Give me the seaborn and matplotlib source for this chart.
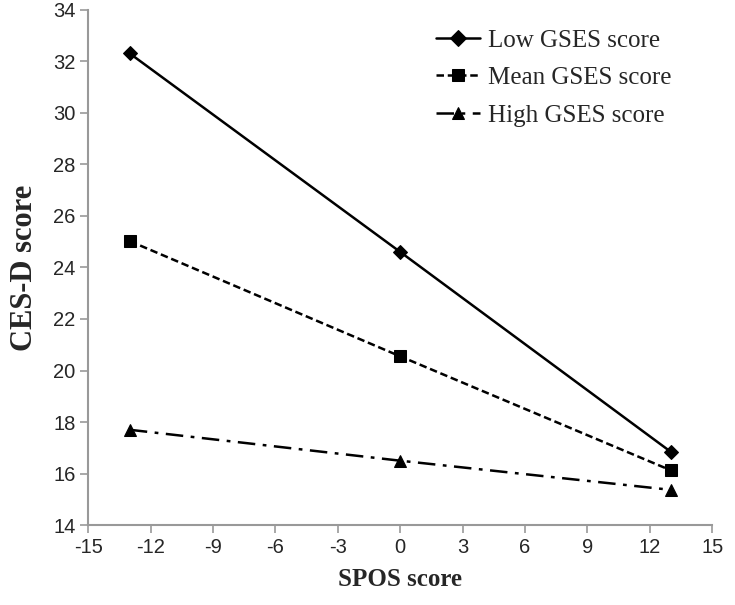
import pandas as pd
import seaborn as sns
import matplotlib.pyplot as plt

# SPOS score levels (-1 SD, mean, +1 SD)
spos = [-13, 0, 13]

# predicted CES-D scores for each GSES level
low_gses = [32.3, 24.6, 16.85]
mean_gses = [25.02, 20.55, 16.13]
high_gses = [17.7, 16.5, 15.37]

labels = ['Low GSES score', 'Mean GSES score', 'High GSES score']

data = pd.DataFrame({
    'SPOS': spos * 3,
    'CESD': low_gses + mean_gses + high_gses,
    'group': [labels[0]] * 3 + [labels[1]] * 3 + [labels[2]] * 3,
})

sns.set_style('white')
plt.rcParams['font.family'] = ['Liberation Sans', 'DejaVu Sans']
plt.rcParams['axes.unicode_minus'] = False

fig = plt.figure(figsize=(7.35, 6.05), dpi=100)
ax = fig.add_axes([0.12, 0.132, 0.849, 0.852])

sns.lineplot(data=data, x='SPOS', y='CESD', hue='group', style='group',
             hue_order=labels, style_order=labels,
             palette=['black'] * 3,
             markers={labels[0]: 'D', labels[1]: 's', labels[2]: '^'},
             dashes={labels[0]: '', labels[1]: (3, 1.5), labels[2]: (7, 3, 1.5, 3)},
             markersize=8, linewidth=1.8, markeredgecolor='black', ax=ax)

# diamond slightly smaller like the original
ax.get_lines()[0].set_markersize(7)

ax.set_xlim(-15, 15)
ax.set_ylim(14, 34)
ax.set_xticks(range(-15, 16, 3))
ax.set_yticks(range(14, 35, 2))
ax.tick_params(axis='both', direction='out', length=6, width=1.2, color='#999999',
               labelsize=14.5, pad=3, left=True, bottom=True)

for side in ['top', 'right']:
    ax.spines[side].set_visible(False)
for side in ['left', 'bottom']:
    ax.spines[side].set_color('#999999')
    ax.spines[side].set_linewidth(1.5)

ax.set_xlabel('SPOS score', family='Liberation Serif', fontweight='bold', fontsize=18, labelpad=8)
ax.set_ylabel('CES-D score', family='Liberation Serif', fontweight='bold', fontsize=22, labelpad=10)

leg = ax.legend(loc='upper left', bbox_to_anchor=(0.593, 0.952), bbox_transform=fig.transFigure,
                frameon=False, borderpad=0, borderaxespad=0,
                prop={'family': 'Liberation Serif', 'size': 18},
                handlelength=1.75, handletextpad=0.35, labelspacing=0.6)
for h in leg.legend_handles:
    h.set_color('black')

fig.savefig('out.png', dpi=100)
